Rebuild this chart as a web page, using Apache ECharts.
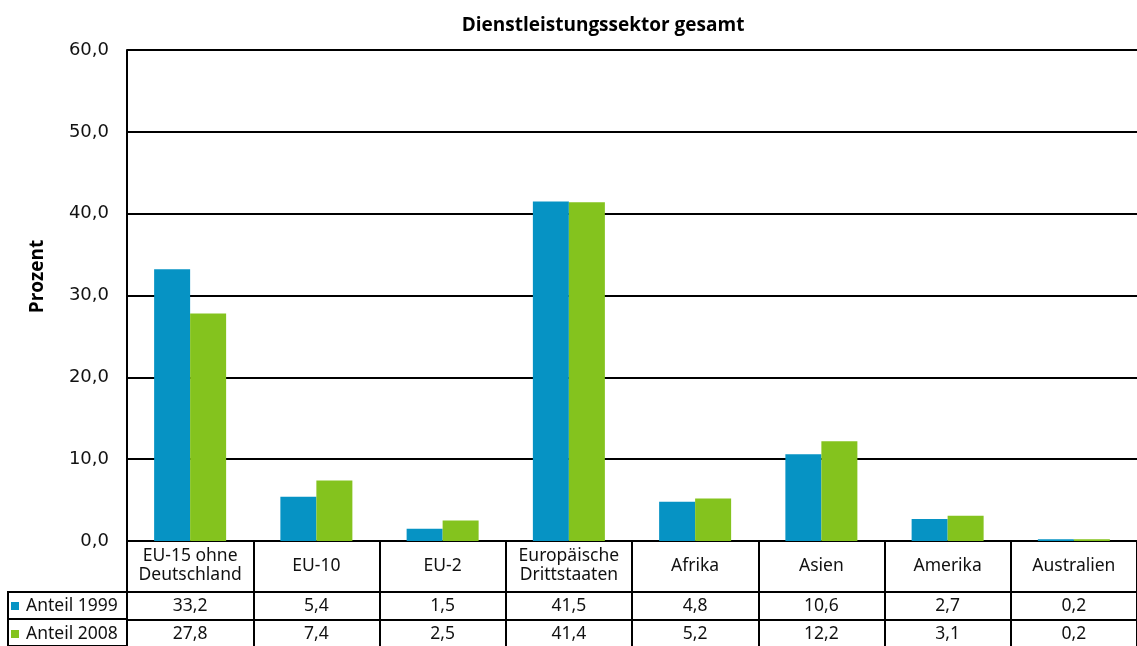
<!DOCTYPE html>
<html><head><meta charset="utf-8">
<script src="https://cdn.jsdelivr.net/npm/echarts@6/dist/echarts.min.js"></script>
<style>html,body{margin:0;padding:0;background:#fff}#c{width:1137px;height:646px}</style>
</head><body><div id="c"></div>
<script>
const categories = ['EU-15 ohne\nDeutschland','EU-10','EU-2','Europäische\nDrittstaaten','Afrika','Asien','Amerika','Australien'];
const anteil1999 = [33.2,5.4,1.5,41.5,4.8,10.6,2.7,0.2];
const anteil2008 = [27.8,7.4,2.5,41.4,5.2,12.2,3.1,0.2];
const seriesNames = ['Anteil 1999','Anteil 2008'];
const yTicks = {min:0, max:60, interval:10};
const fmt = v => v.toFixed(1).replace('.', ',');
const BLUE = '#0693c4', GREEN = '#84c31e';
const tableFont = {fontFamily:'Noto Sans', fontSize:17.5, color:'#111'};
const chart = echarts.init(document.getElementById('c'));
chart.setOption({
  animation:false,
  title:{text:'Dienstleistungssektor gesamt', left:598, top:11, textAlign:'center',
    textStyle:{fontFamily:'Open Sans', fontWeight:'bold', fontSize:19, color:'#000'}},
  legend:{data:seriesNames, orient:'vertical', left:11, top:597, itemWidth:8, itemHeight:8, itemGap:10, padding:0,
    icon:'rect', textStyle:Object.assign({}, tableFont, {lineHeight:17, padding:[0,0,0,2]})},
  grid:[
    {left:127, right:0, top:50, height:491},
    {left:8, width:119, top:592, height:56, show:true, borderColor:'#000', borderWidth:2},
    {left:127, right:0, top:541, height:110}
  ],
  xAxis:[
    {type:'category', gridIndex:0, data:categories,
      axisLine:{lineStyle:{color:'#000', width:2}}, axisTick:{show:false},
      axisLabel:{interval:0, margin:25, verticalAlign:'middle', lineHeight:19, ...tableFont}},
    {type:'category', gridIndex:0, position:'bottom', offset:51, data:anteil1999.map(fmt),
      axisLine:{lineStyle:{color:'#000', width:2}}, axisTick:{show:false},
      axisLabel:{interval:0, margin:14, verticalAlign:'middle', ...tableFont}},
    {type:'category', gridIndex:0, position:'bottom', offset:79, data:anteil2008.map(fmt),
      axisLine:{lineStyle:{color:'#000', width:2}}, axisTick:{show:false},
      axisLabel:{interval:0, margin:14, verticalAlign:'middle', ...tableFont}},
    {type:'category', gridIndex:2, data:categories, axisLine:{show:false}, axisTick:{show:false},
      axisLabel:{show:false}, splitLine:{show:true, interval:0, lineStyle:{color:'#000', width:2}}},
    {type:'value', gridIndex:1, show:false}
  ],
  yAxis:[
    {type:'value', gridIndex:0, min:yTicks.min, max:yTicks.max, interval:yTicks.interval,
      name:'Prozent', nameLocation:'middle', nameGap:80,
      nameTextStyle:{fontFamily:'Open Sans', fontWeight:'bold', fontSize:19, color:'#000', padding:[0,0,0,38]},
      axisLine:{show:true, lineStyle:{color:'#000', width:2}}, axisTick:{show:false},
      axisLabel:{formatter:fmt, margin:18, fontFamily:'DejaVu Sans', fontSize:18, color:'#111'},
      splitLine:{lineStyle:{color:'#000', width:2}}},
    {type:'value', gridIndex:2, show:false},
    {type:'category', gridIndex:1, data:['a','b'], axisLine:{show:false}, axisTick:{show:false},
      axisLabel:{show:false}, splitLine:{show:true, lineStyle:{color:'#000', width:2}}}
  ],
  series:[
    {name:seriesNames[0], type:'bar', xAxisIndex:0, yAxisIndex:0, data:anteil1999, barWidth:36, barGap:'0%', itemStyle:{color:BLUE}},
    {name:seriesNames[1], type:'bar', xAxisIndex:0, yAxisIndex:0, data:anteil2008, barWidth:36, barGap:'0%', itemStyle:{color:GREEN}}
  ]
});
</script></body></html>
